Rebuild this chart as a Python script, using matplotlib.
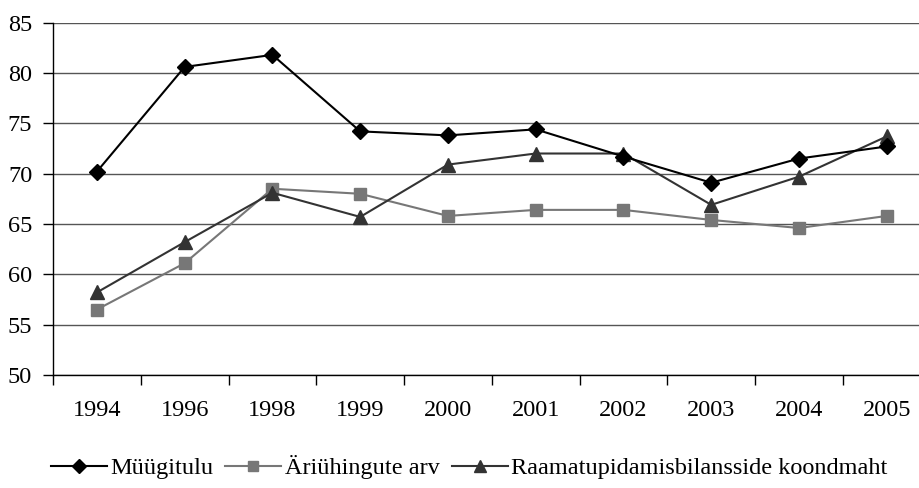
import matplotlib.pyplot as plt
from matplotlib.ticker import FixedLocator

plt.rcParams['font.family'] = ['Liberation Serif', 'DejaVu Serif']

aastad = ['1994', '1996', '1998', '1999', '2000', '2001', '2002', '2003', '2004', '2005']
myygitulu = [70.2, 80.6, 81.8, 74.2, 73.8, 74.4, 71.7, 69.1, 71.5, 72.7]
ariyhingud = [56.5, 61.1, 68.5, 68.0, 65.8, 66.4, 66.4, 65.4, 64.6, 65.8]
bilansid = [58.2, 63.2, 68.1, 65.7, 70.9, 72.0, 72.0, 66.9, 69.7, 73.7]

fig = plt.figure(figsize=(9.2, 4.88), dpi=100)
ax = fig.add_axes([0.0576, 0.2316, 0.954, 0.722])

x = list(range(len(aastad)))
ax.plot(x, myygitulu, color='#000000', lw=1.5, marker='D', ms=8,
        label='Müügitulu', zorder=4)
ax.plot(x, ariyhingud, color='#777777', lw=1.5, marker='s', ms=8.5,
        label='Äriühingute arv', zorder=3)
ax.plot(x, bilansid, color='#333333', lw=1.5, marker='^', ms=10,
        label='Raamatupidamisbilansside koondmaht', zorder=3)

ax.set_xlim(-0.5, len(aastad) - 0.5)
ax.set_ylim(50, 85)
ax.set_yticks(range(50, 86, 5))
ax.yaxis.grid(True, color='#555555', lw=1)
ax.set_axisbelow(True)

# jaotused kategooriate vahel, sildid keskel
ax.xaxis.set_major_locator(FixedLocator([i - 0.5 for i in range(len(aastad) + 1)]))
ax.xaxis.set_major_formatter(plt.NullFormatter())
ax.xaxis.set_minor_locator(FixedLocator(x))
ax.set_xticklabels(aastad, minor=True)
ax.tick_params(axis='x', which='major', length=7, width=1, direction='out', color='black')
ax.tick_params(axis='x', which='minor', length=0, pad=18, labelsize=17.5)
ax.tick_params(axis='y', length=7, width=1, direction='out', pad=8, labelsize=17.5)

for s in ['top', 'right']:
    ax.spines[s].set_visible(False)
ax.spines['left'].set_linewidth(1)
ax.spines['bottom'].set_linewidth(1)

fig.legend(loc='center', bbox_to_anchor=(0.51, 0.043), ncol=3, frameon=False,
           fontsize=17.5, handlelength=2.3, handletextpad=0.15, columnspacing=0.5,
           borderaxespad=0, markerscale=0.85)

fig.savefig('out.png', dpi=100)
